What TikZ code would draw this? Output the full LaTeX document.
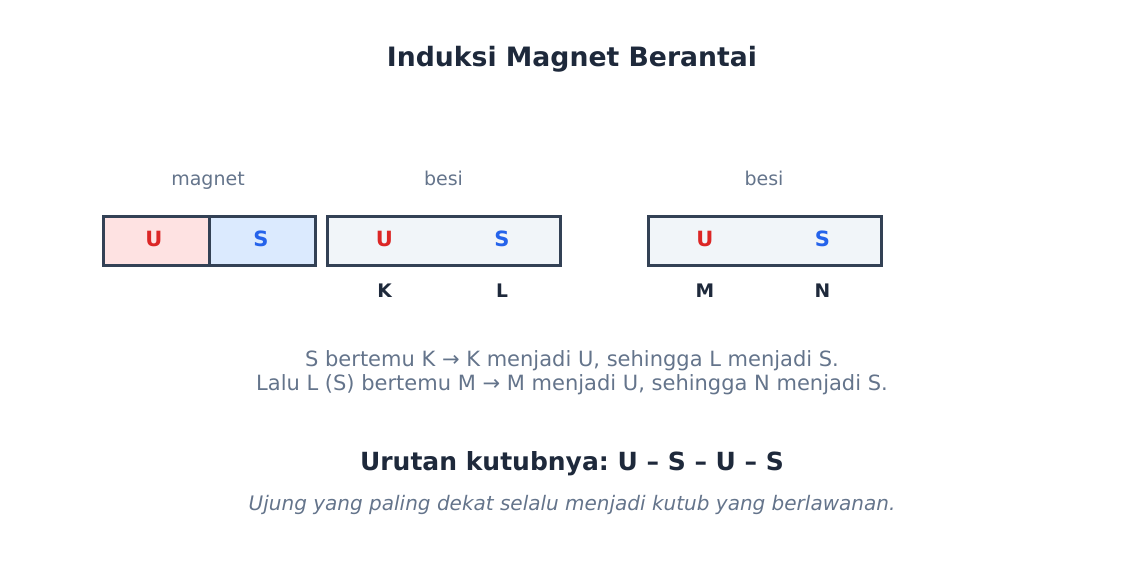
\documentclass[tikz,border=0pt]{standalone}
\usepackage{fontspec}
\setmainfont{DejaVu Sans}
\usetikzlibrary{positioning}
\frenchspacing
\definecolor{ink}{HTML}{1E293B}
\definecolor{muted}{HTML}{64748B}
\definecolor{frame}{HTML}{334155}
\definecolor{redpole}{HTML}{DC2626}
\definecolor{bluepole}{HTML}{2563EB}
\definecolor{redfill}{HTML}{FEE2E2}
\definecolor{bluefill}{HTML}{DBEAFE}
\definecolor{ironfill}{HTML}{F1F5F9}

\tikzset{
  bar/.style={draw=frame, line width=2.25pt, minimum height=36.75pt, inner sep=0pt},
  pole/.style={anchor=base, font=\fontsize{15.75}{18}\selectfont\bfseries},
  tag/.style={anchor=base, font=\fontsize{14.25}{17}\selectfont, text=muted},
  endname/.style={anchor=base, font=\fontsize{14}{17}\selectfont\bfseries, text=ink}
}

\begin{document}
\begin{tikzpicture}[x=0.75pt, y=-0.75pt]
    \useasboundingbox (0,0) rectangle (1144,583);
    \node[anchor=base, font=\fontsize{20}{24}\selectfont\bfseries, text=ink] (title) at (572,66) {Induksi Magnet Berantai};

    % magnet
    \node[bar, fill=redfill, minimum width=79.5pt] (magU) at (156.25,240.5) {};
    \node[bar, fill=bluefill, minimum width=79.5pt] (magS) at (262.25,240.5) {};
    \node[pole, text=redpole] (magUl) at (154,246.5) {U};
    \node[pole, text=bluepole] (magSl) at (261,246.5) {S};
    \node[tag] (magtag) at (208,185) {magnet};

    % dua batang besi
    \foreach \bname/\cx/\first/\second in {ironA/444/K/L, ironB/764.5/M/N}
    {
        \node[bar, fill=ironfill, minimum width=174.75pt] (\bname) at (\cx,240.5) {};
        \node[pole, text=redpole] (\bname U) at (\cx-59.5,246.5) {U};
        \node[pole, text=bluepole] (\bname S) at (\cx+58,246.5) {S};
        \node[tag] (\bname tag) at (\cx-0.5,185) {besi};
        \node[endname] (\bname\first) at (\cx-59.5,297.5) {\first};
        \node[endname] (\bname\second) at (\cx+58,297.5) {\second};
    }

    \node[anchor=base, font=\fontsize{15.75}{18}\selectfont, text=muted] (explainA) at (572,366)
        {S bertemu K → K menjadi U, sehingga L menjadi S.};
    \node[anchor=base, font=\fontsize{15.75}{18}\selectfont, text=muted] (explainB) at (572,390)
        {Lalu L (S) bertemu M → M menjadi U, sehingga N menjadi S.};
    \node[anchor=base, font=\fontsize{18.75}{22}\selectfont\bfseries, text=ink] (order) at (572,470) {Urutan kutubnya: U – S – U – S};
    \node[anchor=base, font=\fontsize{15}{18}\selectfont\itshape, text=muted] (rule) at (572,510) {Ujung yang paling dekat selalu menjadi kutub yang berlawanan.};
\end{tikzpicture}
\end{document}
